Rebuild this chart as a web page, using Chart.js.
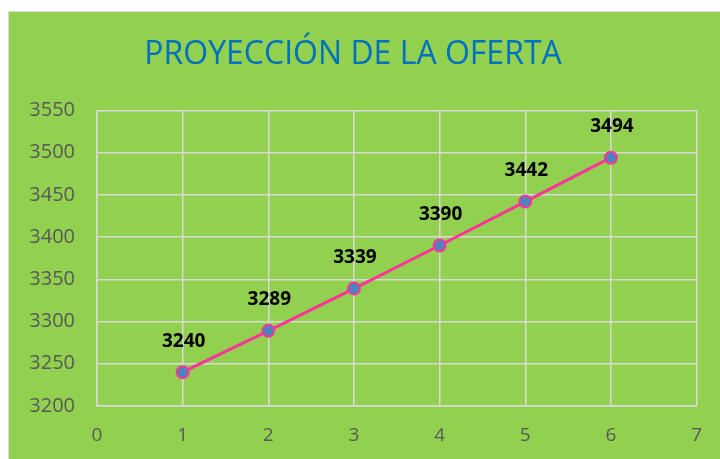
<!DOCTYPE html>
<html>
<head>
<meta charset="utf-8">
<script src="https://cdn.jsdelivr.net/npm/chart.js@4"></script>
<style>
  body { margin: 0; background: #fff; }
  #wrap { position: absolute; left: 8px; top: 11px; width: 711px; height: 447px;
          border: 1px solid #d9d9d9; border-right: none; background: #92D050; }
</style>
</head>
<body>
<div id="wrap"><canvas id="lineChart" width="711" height="447"></canvas></div>
<script>
const anios = [1, 2, 3, 4, 5, 6];
const oferta = [3240, 3289, 3339, 3390, 3442, 3494];
const yTicks = [3200, 3250, 3300, 3350, 3400, 3450, 3500, 3550];
const xTicks = [0, 1, 2, 3, 4, 5, 6, 7];

// etiquetas de datos encima de cada punto
const etiquetas = {
    id: 'etiquetas',
    afterDatasetsDraw(chart) {
        const ctx = chart.ctx;
        const meta = chart.getDatasetMeta(0);
        ctx.save();
        ctx.font = 'bold 19px "Open Sans"';
        ctx.fillStyle = '#000';
        ctx.textAlign = 'center';
        ctx.textBaseline = 'middle';
        meta.data.forEach((pt, i) => {
            ctx.fillText(String(oferta[i]), pt.x + 1, pt.y - 31);
        });
        ctx.restore();
    }
};

const lineChart = new Chart(document.getElementById('lineChart'), {
    type: 'line',
    data: {
        datasets: [{
            label: 'Oferta',
            data: anios.map((a, i) => ({ x: a, y: oferta[i] })),
            borderColor: '#FF3399',
            borderWidth: 3,
            backgroundColor: '#4F81BD',
            pointBackgroundColor: '#4F81BD',
            pointBorderColor: '#FF3399',
            pointBorderWidth: 2,
            pointRadius: 6,
            fill: false,
            tension: 0
        }]
    },
    options: {
        responsive: false,
        animation: false,
        layout: { padding: { left: 0, right: 23, top: 0, bottom: 0 } },
        plugins: {
            legend: { display: false },
            tooltip: { enabled: false },
            title: {
                display: true,
                text: 'PROYECCIÓN DE LA OFERTA',
                color: '#0070C0',
                font: { family: '"Open Sans"', size: 32, weight: 'normal' },
                padding: { top: 24, bottom: 36 }
            }
        },
        scales: {
            x: {
                type: 'linear',
                min: 0, max: 7,
                afterBuildTicks: s => { s.ticks = xTicks.map(v => ({ value: v })); },
                afterFit: s => { s.height = 53; },
                ticks: { color: '#595959', font: { family: '"Open Sans"', size: 19 }, padding: 18 },
                grid: { color: '#D9D9D9', lineWidth: 1.5, drawTicks: false },
                border: { color: '#D9D9D9', width: 1.5 }
            },
            y: {
                min: 3200, max: 3550,
                afterBuildTicks: s => { s.ticks = yTicks.map(v => ({ value: v })); },
                afterFit: s => { s.width = 88; },
                ticks: {
                    color: '#595959', font: { family: '"Open Sans"', size: 20 }, padding: 22,
                    callback: v => String(v)
                },
                grid: { color: '#D9D9D9', lineWidth: 1.5, drawTicks: false },
                border: { color: '#D9D9D9', width: 1.5 }
            }
        }
    },
    plugins: [etiquetas]
});
</script>
</body>
</html>
